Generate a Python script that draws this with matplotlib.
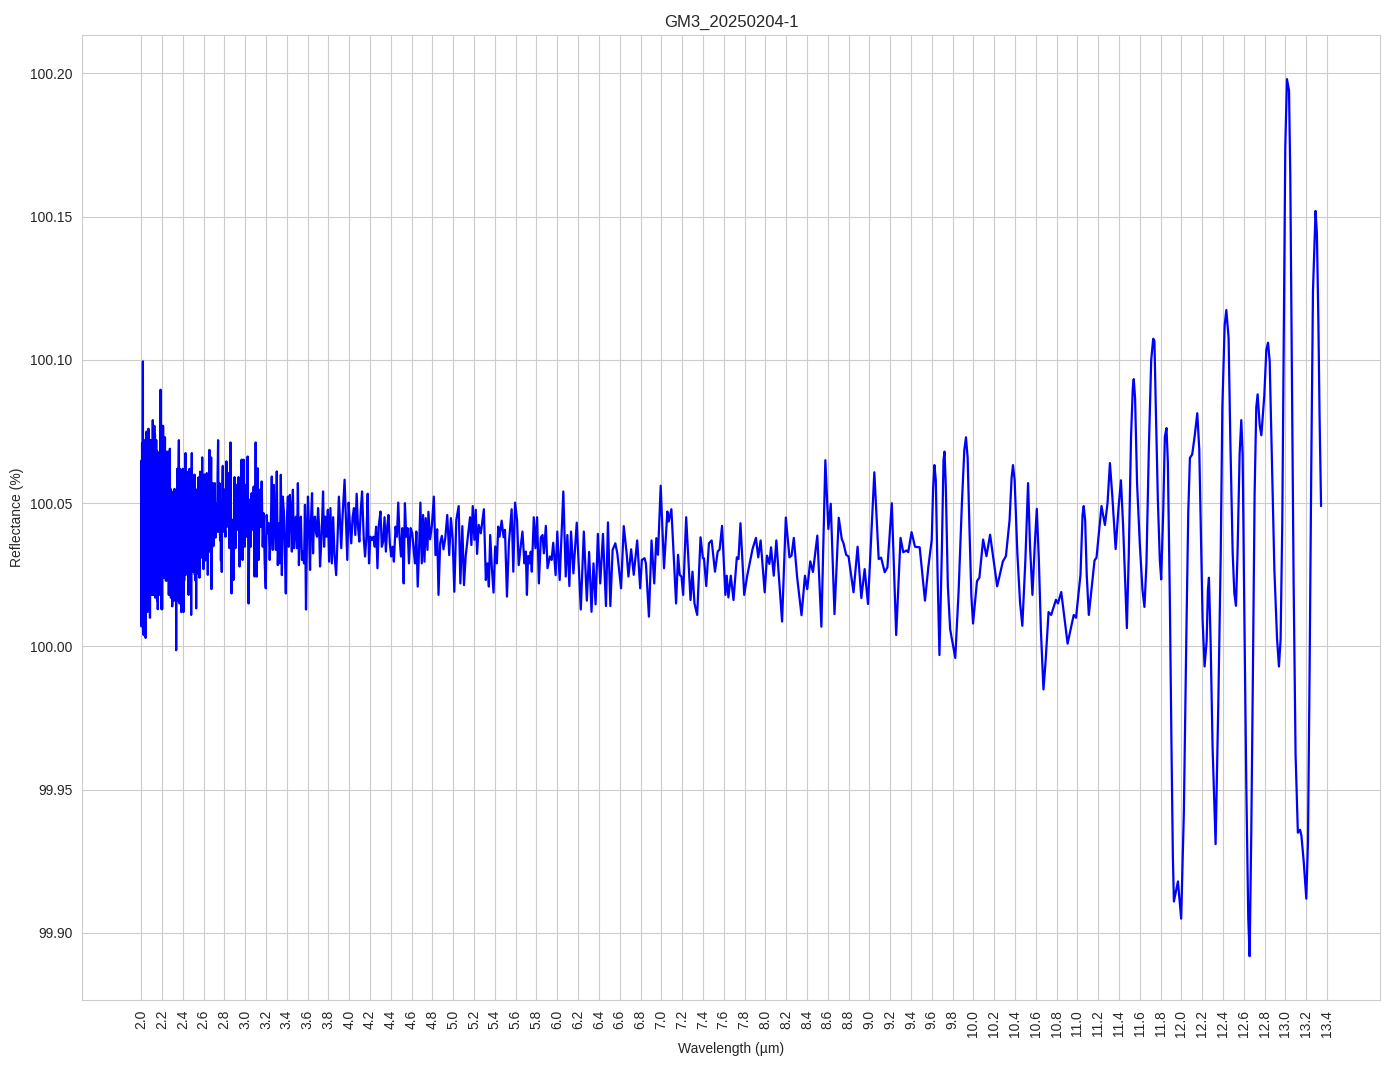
import numpy as np
import matplotlib
matplotlib.use('Agg')
import matplotlib.pyplot as plt
import seaborn as sns
from matplotlib.ticker import FormatStrFormatter

# values (wavelength in um, reflectance in %)
# 2.0 - 2.8 um : very dense noise
wl_dense = [2.000, 2.002, 2.004, 2.006, 2.008, 2.010, 2.013, 2.016, 2.018, 2.020,
            2.022, 2.025, 2.027, 2.029, 2.032, 2.035, 2.038, 2.040, 2.042, 2.045,
            2.048, 2.051, 2.054, 2.057, 2.060, 2.063, 2.066, 2.069, 2.072, 2.075,
            2.078, 2.081, 2.084, 2.087, 2.090, 2.093, 2.096, 2.099, 2.102, 2.105,
            2.108, 2.111, 2.114, 2.117, 2.120, 2.123, 2.126, 2.129, 2.132, 2.135,
            2.138, 2.141, 2.144, 2.147, 2.150, 2.153, 2.156, 2.159, 2.162, 2.165,
            2.168, 2.171, 2.174, 2.177, 2.180, 2.183, 2.186, 2.189, 2.192, 2.195,
            2.198, 2.201, 2.204, 2.207, 2.210, 2.213, 2.216, 2.219, 2.222, 2.225,
            2.228, 2.231, 2.234, 2.237, 2.240, 2.243, 2.246, 2.249, 2.252, 2.255,
            2.258, 2.262, 2.265, 2.268, 2.272, 2.275, 2.278, 2.282, 2.285, 2.288,
            2.291, 2.294, 2.298, 2.302, 2.305, 2.308, 2.311, 2.314, 2.317, 2.320,
            2.324, 2.327, 2.330, 2.333, 2.336, 2.339, 2.342, 2.346, 2.349, 2.352,
            2.356, 2.359, 2.362, 2.365, 2.368, 2.371, 2.374, 2.377, 2.380, 2.384,
            2.387, 2.390, 2.393, 2.396, 2.400, 2.403, 2.406, 2.410, 2.413, 2.416,
            2.420, 2.423, 2.426, 2.429, 2.432, 2.435, 2.438, 2.442, 2.445, 2.448,
            2.451, 2.455, 2.458, 2.461, 2.464, 2.468, 2.471, 2.474, 2.477, 2.480,
            2.483, 2.486, 2.490, 2.493, 2.496, 2.499, 2.502, 2.506, 2.509, 2.512,
            2.515, 2.518, 2.522, 2.525, 2.528, 2.531, 2.534, 2.538, 2.541, 2.544,
            2.547, 2.550, 2.554, 2.557, 2.560, 2.563, 2.566, 2.570, 2.573, 2.576,
            2.580, 2.583, 2.586, 2.590, 2.594, 2.598, 2.602, 2.605, 2.608, 2.612,
            2.615, 2.618, 2.622, 2.626, 2.630, 2.634, 2.637, 2.640, 2.644, 2.648,
            2.652, 2.656, 2.659, 2.662, 2.666, 2.669, 2.672, 2.675, 2.679, 2.682,
            2.685, 2.688, 2.691, 2.694, 2.698, 2.702, 2.707, 2.710, 2.714, 2.718,
            2.722, 2.726, 2.730, 2.734, 2.739, 2.743, 2.746, 2.749, 2.752, 2.755,
            2.758, 2.762, 2.766, 2.770, 2.774, 2.778, 2.781, 2.784, 2.788, 2.792,
            2.796, 2.800]
refl_dense = [100.050, 100.007, 100.065, 100.010, 100.071, 100.008, 100.060, 100.0995, 100.012, 100.065,
              100.004, 100.060, 100.015, 100.070, 100.006, 100.072, 100.005, 100.060, 100.003, 100.058,
              100.018, 100.075, 100.016, 100.066, 100.012, 100.073, 100.014, 100.076, 100.020, 100.068,
              100.022, 100.069, 100.010, 100.062, 100.020, 100.072, 100.024, 100.072, 100.018, 100.066,
              100.018, 100.079, 100.020, 100.070, 100.018, 100.063, 100.077, 100.020, 100.074, 100.017,
              100.064, 100.018, 100.072, 100.024, 100.068, 100.016, 100.068, 100.013, 100.060, 100.020,
              100.065, 100.019, 100.060, 100.018, 100.063, 100.025, 100.0896, 100.022, 100.066, 100.013,
              100.058, 100.013, 100.077, 100.025, 100.077, 100.024, 100.063, 100.024, 100.068, 100.024,
              100.073, 100.028, 100.067, 100.023, 100.068, 100.023, 100.060, 100.030, 100.055, 100.068,
              100.025, 100.066, 100.018, 100.060, 100.023, 100.069, 100.030, 100.055, 100.017, 100.052,
              100.020, 100.054, 100.014, 100.045, 100.024, 100.054, 100.020, 100.050, 100.016, 100.055,
              100.030, 100.046, 100.020, 100.040, 99.9987, 100.045, 100.025, 100.062, 100.016, 100.050,
              100.025, 100.062, 100.072, 100.025, 100.015, 100.058, 100.062, 100.025, 100.055, 100.012,
              100.045, 100.030, 100.060, 100.024, 100.062, 100.030, 100.012, 100.050, 100.023, 100.058,
              100.030, 100.063, 100.0675, 100.025, 100.050, 100.026, 100.061, 100.035, 100.057, 100.028,
              100.055, 100.018, 100.040, 100.057, 100.062, 100.030, 100.050, 100.022, 100.055, 100.011,
              100.050, 100.0675, 100.030, 100.055, 100.026, 100.052, 100.032, 100.058, 100.030, 100.060,
              100.025, 100.045, 100.023, 100.050, 100.0133, 100.048, 100.0535, 100.030, 100.055, 100.0255,
              100.050, 100.059, 100.035, 100.057, 100.024, 100.055, 100.061, 100.035, 100.058, 100.031,
              100.052, 100.040, 100.066, 100.035, 100.055, 100.027, 100.052, 100.040, 100.060, 100.033,
              100.052, 100.030, 100.055, 100.038, 100.0605, 100.035, 100.050, 100.025, 100.055, 100.038,
              100.060, 100.0686, 100.040, 100.033, 100.055, 100.040, 100.066, 100.020, 100.045, 100.035,
              100.052, 100.057, 100.040, 100.035, 100.050, 100.042, 100.057, 100.045, 100.038, 100.050,
              100.045, 100.049, 100.040, 100.060, 100.072, 100.045, 100.040, 100.052, 100.057, 100.045,
              100.037, 100.050, 100.030, 100.045, 100.026, 100.050, 100.058, 100.063, 100.045, 100.055,
              100.040, 100.044]

# 2.8 - 7.6 um : medium noise
wl_mid = [2.810, 2.819, 2.829, 2.839, 2.848, 2.858, 2.868, 2.877, 2.887, 2.897,
          2.906, 2.916, 2.926, 2.935, 2.945, 2.955, 2.965, 2.974, 2.984, 2.994,
          3.003, 3.013, 3.023, 3.032, 3.042, 3.052, 3.061, 3.071, 3.081, 3.090,
          3.100, 3.110, 3.119, 3.129, 3.139, 3.148, 3.158, 3.168, 3.177, 3.187,
          3.197, 3.206, 3.216, 3.226, 3.235, 3.245, 3.255, 3.265, 3.274, 3.284,
          3.294, 3.303, 3.313, 3.323, 3.332, 3.342, 3.352, 3.361, 3.371, 3.381,
          3.390, 3.400, 3.410, 3.419, 3.429, 3.439, 3.448, 3.458, 3.468, 3.477,
          3.487, 3.497, 3.506, 3.516, 3.526, 3.535, 3.545, 3.555, 3.565, 3.574,
          3.584, 3.594, 3.603, 3.613, 3.623, 3.632, 3.642, 3.652, 3.661, 3.671,
          3.681, 3.690, 3.700, 3.710, 3.719, 3.729, 3.739, 3.748, 3.758, 3.768,
          3.781, 3.794, 3.806, 3.819, 3.832, 3.845, 3.858, 3.874, 3.887, 3.900,
          3.913, 3.923, 3.935, 3.955, 3.968, 3.981, 3.994, 4.006, 4.019, 4.032,
          4.045, 4.058, 4.071, 4.084, 4.097, 4.110, 4.123, 4.139, 4.152, 4.165,
          4.177, 4.190, 4.203, 4.219, 4.232, 4.245, 4.258, 4.271, 4.284, 4.300,
          4.313, 4.326, 4.339, 4.352, 4.365, 4.377, 4.390, 4.403, 4.416, 4.429,
          4.445, 4.458, 4.471, 4.484, 4.497, 4.510, 4.523, 4.535, 4.548, 4.561,
          4.574, 4.590, 4.606, 4.619, 4.632, 4.645, 4.658, 4.671, 4.684, 4.697,
          4.710, 4.723, 4.735, 4.752, 4.761, 4.777, 4.794, 4.813, 4.829, 4.845,
          4.858, 4.874, 4.890, 4.906, 4.923, 4.942, 4.961, 4.977, 4.994, 5.010,
          5.029, 5.052, 5.068, 5.087, 5.103, 5.119, 5.142, 5.161, 5.174, 5.187,
          5.203, 5.216, 5.229, 5.245, 5.265, 5.294, 5.313, 5.329, 5.342, 5.355,
          5.371, 5.387, 5.403, 5.419, 5.432, 5.445, 5.465, 5.484, 5.497, 5.516,
          5.535, 5.561, 5.577, 5.594, 5.613, 5.629, 5.648, 5.665, 5.684, 5.697,
          5.708, 5.719, 5.735, 5.745, 5.755, 5.774, 5.790, 5.806, 5.823, 5.842,
          5.858, 5.871, 5.890, 5.906, 5.929, 5.945, 5.961, 5.984, 6.000, 6.023,
          6.058, 6.081, 6.097, 6.116, 6.132, 6.155, 6.187, 6.226, 6.255, 6.284,
          6.306, 6.329, 6.348, 6.368, 6.390, 6.413, 6.439, 6.468, 6.487, 6.510,
          6.532, 6.558, 6.577, 6.613, 6.639, 6.668, 6.684, 6.710, 6.735, 6.768,
          6.797, 6.813, 6.839, 6.852, 6.881, 6.906, 6.932, 6.952, 6.968, 6.994,
          7.026, 7.058, 7.071, 7.097, 7.142, 7.161, 7.177, 7.194, 7.210, 7.239,
          7.281, 7.300, 7.319, 7.345, 7.377, 7.400, 7.410, 7.432, 7.458, 7.484,
          7.516, 7.542, 7.561, 7.584]
refl_mid = [100.0383, 100.0646, 100.0418, 100.0605, 100.0343, 100.0712, 100.0185, 100.0442, 100.0232, 100.0591,
            100.0343, 100.0564, 100.0407, 100.0591, 100.0279, 100.0500, 100.0652, 100.0302, 100.0652, 100.0348,
            100.0564, 100.0383, 100.0663, 100.0150, 100.0512, 100.0348, 100.0535, 100.0407, 100.0558, 100.0244,
            100.0712, 100.0244, 100.0622, 100.0302, 100.0547, 100.0418, 100.0576, 100.0348, 100.0465, 100.0290,
            100.0203, 100.0459, 100.0395, 100.0430, 100.0302, 100.0407, 100.0593, 100.0337, 100.0564, 100.0442,
            100.0337, 100.0611, 100.0284, 100.0430, 100.0290, 100.0599, 100.0249, 100.0523, 100.0471, 100.0331,
            100.0185, 100.0442, 100.0523, 100.0348, 100.0529, 100.0477, 100.0331, 100.0547, 100.0343, 100.0407,
            100.0453, 100.0343, 100.0570, 100.0284, 100.0442, 100.0453, 100.0302, 100.0331, 100.0290, 100.0494,
            100.0129, 100.0401, 100.0523, 100.0407, 100.0267, 100.0442, 100.0535, 100.0325, 100.0448, 100.0453,
            100.0395, 100.0383, 100.0483, 100.0418, 100.0279, 100.0348, 100.0442, 100.0541, 100.0348, 100.0453,
            100.0383, 100.0477, 100.0296, 100.0483, 100.0290, 100.0451, 100.0319, 100.0249, 100.0374, 100.0523,
            100.0424, 100.0343, 100.0451, 100.0582, 100.0436, 100.0302, 100.0502, 100.0424, 100.0360, 100.0451,
            100.0483, 100.0389, 100.0533, 100.0418, 100.0366, 100.0471, 100.0541, 100.0378, 100.0314, 100.0383,
            100.0533, 100.0290, 100.0383, 100.0372, 100.0383, 100.0348, 100.0418, 100.0273, 100.0424, 100.0471,
            100.0348, 100.0366, 100.0451, 100.0331, 100.0418, 100.0459, 100.0360, 100.0314, 100.0348, 100.0296,
            100.0418, 100.0383, 100.0502, 100.0378, 100.0314, 100.0413, 100.0220, 100.0500, 100.0383, 100.0413,
            100.0290, 100.0413, 100.0395, 100.0337, 100.0290, 100.0401, 100.0209, 100.0337, 100.0502, 100.0290,
            100.0459, 100.0296, 100.0448, 100.0337, 100.0470, 100.0374, 100.0420, 100.0523, 100.0319, 100.0409,
            100.0180, 100.0360, 100.0386, 100.0339, 100.0378, 100.0459, 100.0319, 100.0448, 100.0374, 100.0191,
            100.0442, 100.0490, 100.0220, 100.0420, 100.0214, 100.0314, 100.0389, 100.0451, 100.0354, 100.0490,
            100.0372, 100.0477, 100.0323, 100.0424, 100.0395, 100.0479, 100.0232, 100.0290, 100.0209, 100.0389,
            100.0273, 100.0188, 100.0349, 100.0290, 100.0418, 100.0383, 100.0439, 100.0381, 100.0407, 100.0174,
            100.0362, 100.0479, 100.0261, 100.0502, 100.0442, 100.0284, 100.0349, 100.0401, 100.0290, 100.0331,
            100.0180, 100.0316, 100.0290, 100.0331, 100.0261, 100.0451, 100.0343, 100.0451, 100.0220, 100.0381,
            100.0389, 100.0325, 100.0421, 100.0273, 100.0314, 100.0302, 100.0362, 100.0249, 100.0401, 100.0232,
            100.0541, 100.0244, 100.0389, 100.0211, 100.0401, 100.0255, 100.0432, 100.0129, 100.0401, 100.0160,
            100.0330, 100.0121, 100.0290, 100.0147, 100.0393, 100.0220, 100.0393, 100.0141, 100.0433, 100.0141,
            100.0337, 100.0360, 100.0325, 100.0203, 100.0420, 100.0320, 100.0244, 100.0339, 100.0250, 100.0370,
            100.0203, 100.0302, 100.0308, 100.0290, 100.0104, 100.0370, 100.0220, 100.0378, 100.0320, 100.0561,
            100.0273, 100.0471, 100.0436, 100.0479, 100.0150, 100.0320, 100.0250, 100.0244, 100.0180, 100.0451,
            100.0162, 100.0261, 100.0150, 100.0110, 100.0381, 100.0308, 100.0308, 100.0211, 100.0360, 100.0370,
            100.0261, 100.0331, 100.0339, 100.0421]

# 7.6 - 13.34 um : smooth oscillations
wl_smooth = [7.616, 7.629, 7.645, 7.668, 7.694, 7.726, 7.742, 7.761, 7.797, 7.826,
             7.855, 7.877, 7.910, 7.932, 7.955, 7.994, 8.016, 8.039, 8.055, 8.081,
             8.106, 8.161, 8.197, 8.232, 8.252, 8.274, 8.306, 8.348, 8.381, 8.403,
             8.432, 8.458, 8.500, 8.539, 8.577, 8.606, 8.629, 8.665, 8.706, 8.735,
             8.752, 8.777, 8.800, 8.848, 8.887, 8.923, 8.955, 8.987, 9.048, 9.090,
             9.113, 9.148, 9.174, 9.216, 9.258, 9.300, 9.326, 9.358, 9.374, 9.406,
             9.439, 9.484, 9.535, 9.568, 9.600, 9.613, 9.626, 9.639, 9.655, 9.674,
             9.697, 9.713, 9.723, 9.735, 9.755, 9.777, 9.826, 9.858, 9.890, 9.913,
             9.929, 9.945, 9.965, 9.981, 9.997, 10.035, 10.058, 10.094, 10.126, 10.161,
             10.229, 10.284, 10.313, 10.348, 10.368, 10.381, 10.397, 10.423, 10.449, 10.471,
             10.500, 10.526, 10.545, 10.568, 10.590, 10.610, 10.630, 10.650, 10.674, 10.695,
             10.723, 10.748, 10.794, 10.813, 10.845, 10.906, 10.965, 10.987, 11.030, 11.050,
             11.061, 11.075, 11.090, 11.110, 11.165, 11.184, 11.232, 11.265, 11.290, 11.313,
             11.335, 11.368, 11.395, 11.419, 11.440, 11.476, 11.494, 11.516, 11.533, 11.542,
             11.555, 11.574, 11.600, 11.626, 11.645, 11.664, 11.687, 11.710, 11.729, 11.741,
             11.754, 11.774, 11.793, 11.806, 11.825, 11.841, 11.857, 11.870, 11.889, 11.905,
             11.918, 11.928, 11.967, 11.998, 12.024, 12.047, 12.066, 12.082, 12.104, 12.127,
             12.153, 12.172, 12.188, 12.204, 12.223, 12.243, 12.255, 12.265, 12.281, 12.300,
             12.329, 12.355, 12.378, 12.394, 12.416, 12.432, 12.454, 12.470, 12.493, 12.509,
             12.525, 12.540, 12.560, 12.576, 12.589, 12.605, 12.624, 12.643, 12.656, 12.672,
             12.688, 12.704, 12.720, 12.733, 12.753, 12.769, 12.797, 12.817, 12.833, 12.849,
             12.871, 12.894, 12.920, 12.938, 12.954, 12.970, 12.983, 12.999, 13.015, 13.035,
             13.047, 13.063, 13.079, 13.098, 13.120, 13.141, 13.154, 13.176, 13.201, 13.217,
             13.233, 13.249, 13.265, 13.290, 13.303, 13.317, 13.329, 13.343]
refl_smooth = [100.0180, 100.0247, 100.0171, 100.0247, 100.0162, 100.0311, 100.0305, 100.0430, 100.0180, 100.0247,
               100.0300, 100.0340, 100.0379, 100.0311, 100.0370, 100.0189, 100.0317, 100.0288, 100.0346, 100.0247,
               100.0370, 100.0087, 100.0450, 100.0311, 100.0317, 100.0379, 100.0241, 100.0109, 100.0247, 100.0200,
               100.0297, 100.0260, 100.0387, 100.0069, 100.0650, 100.0410, 100.0498, 100.0113, 100.0449, 100.0375,
               100.0360, 100.0320, 100.0314, 100.0189, 100.0348, 100.0169, 100.0270, 100.0148, 100.0608, 100.0305,
               100.0310, 100.0259, 100.0276, 100.0500, 100.0040, 100.0379, 100.0329, 100.0335, 100.0329, 100.0399,
               100.0348, 100.0346, 100.0160, 100.0280, 100.0373, 100.0550, 100.0633, 100.0580, 100.0270, 99.9970,
               100.0330, 100.0650, 100.0680, 100.0560, 100.0210, 100.0060, 99.9960, 100.0190, 100.0500, 100.0685,
               100.0730, 100.0660, 100.0380, 100.0176, 100.0080, 100.0228, 100.0240, 100.0373, 100.0315, 100.0390,
               100.0210, 100.0297, 100.0315, 100.0440, 100.0590, 100.0633, 100.0580, 100.0326, 100.0153, 100.0072,
               100.0300, 100.0570, 100.0350, 100.0180, 100.0350, 100.0480, 100.0300, 100.0050, 99.9850, 99.9950,
               100.0120, 100.0110, 100.0163, 100.0150, 100.0190, 100.0010, 100.0110, 100.0100, 100.0250, 100.0460,
               100.0490, 100.0440, 100.0250, 100.0110, 100.0300, 100.0310, 100.0490, 100.0424, 100.0500, 100.0640,
               100.0530, 100.0340, 100.0480, 100.0580, 100.0420, 100.0064, 100.0316, 100.0732, 100.0903, 100.0933,
               100.0866, 100.0569, 100.0360, 100.0197, 100.0138, 100.0286, 100.0688, 100.1000, 100.1074, 100.1066,
               100.0836, 100.0510, 100.0300, 100.0234, 100.0465, 100.0732, 100.0762, 100.0643, 100.0167, 99.9647,
               99.9270, 99.9110, 99.9180, 99.9050, 99.9424, 100.0019, 100.0465, 100.0658, 100.0670, 100.0732,
               100.0814, 100.0688, 100.0390, 100.0093, 99.9930, 100.0019, 100.0197, 100.0240, 100.0019, 99.9647,
               99.9310, 99.9800, 100.0316, 100.0836, 100.1120, 100.1174, 100.1077, 100.0733, 100.0328, 100.0186,
               100.0142, 100.0328, 100.0672, 100.0790, 100.0672, 100.0126, 99.9519, 99.9053, 99.8919, 99.9349,
               99.9920, 100.0531, 100.0834, 100.0880, 100.0773, 100.0737, 100.0875, 100.1036, 100.1060, 100.0996,
               100.0632, 100.0268, 100.0026, 99.9930, 100.0026, 100.0430, 100.1036, 100.1744, 100.1980, 100.1940,
               100.1643, 100.0935, 100.0227, 99.9621, 99.9350, 99.9360, 99.9340, 99.9250, 99.9120, 99.9317,
               99.9924, 100.0632, 100.1239, 100.1520, 100.1440, 100.1138, 100.0794, 100.0490]

x_ticks = np.round(np.arange(2.0, 13.41, 0.2), 1)

wavelength = np.array(wl_dense + wl_mid + wl_smooth)
reflectance = np.array(refl_dense + refl_mid + refl_smooth)

sns.set_style('whitegrid')
plt.rcParams['font.family'] = ['Liberation Sans', 'DejaVu Sans']

fig, ax = plt.subplots(figsize=(13.94, 10.69), dpi=100)
ax.plot(wavelength, reflectance, color='blue', linewidth=1.6)
ax.set_title('GM3_20250204-1')
ax.set_xlabel('Wavelength (µm)')
ax.set_ylabel('Reflectance (%)')
ax.set_xticks(x_ticks)
ax.set_xticklabels(['%.1f' % t for t in x_ticks], rotation=90)
ax.yaxis.set_major_formatter(FormatStrFormatter('%.2f'))
fig.subplots_adjust(left=0.059, right=0.99, top=0.967, bottom=0.0645)
fig.savefig('out.png', dpi=100)
